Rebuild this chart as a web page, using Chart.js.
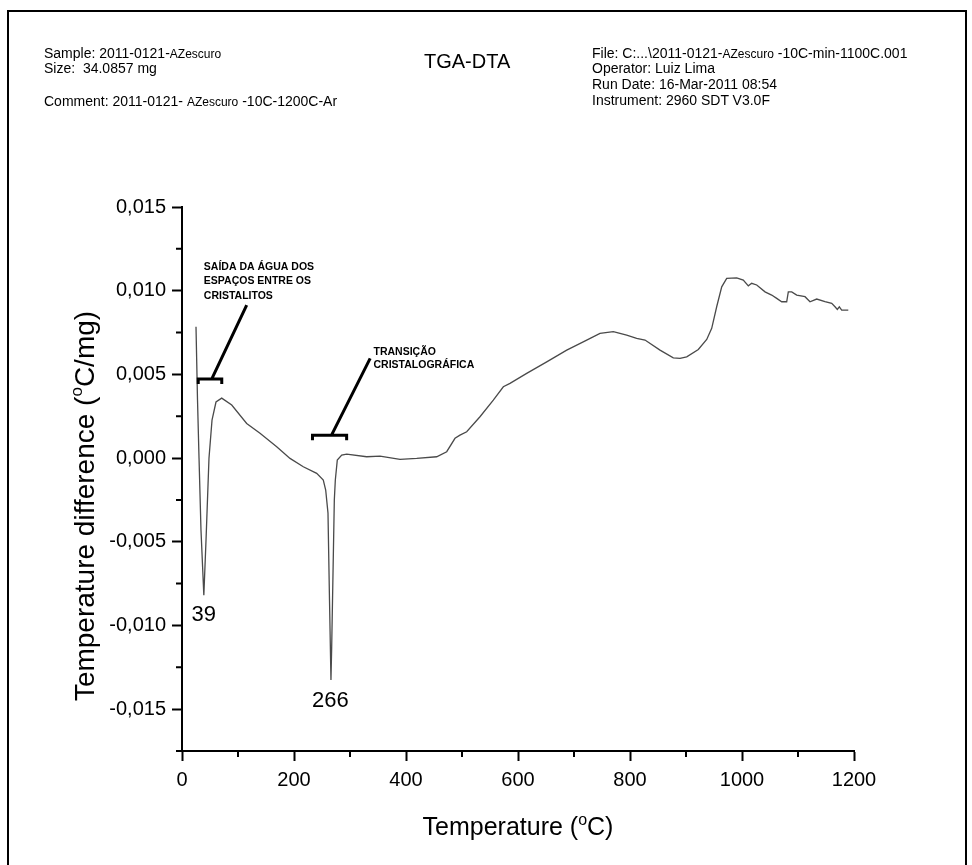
<!DOCTYPE html>
<html>
<head>
<meta charset="utf-8">
<script src="https://cdn.jsdelivr.net/npm/chart.js@4"></script>
<style>
  html, body { margin: 0; padding: 0; background: #fff; }
  body { width: 972px; height: 865px; position: relative; overflow: hidden; font-family: Arial, "Liberation Sans", sans-serif; }
  #frame { position: absolute; left: 7px; top: 10px; width: 960px; height: 900px; border: 2px solid #000; box-sizing: border-box; pointer-events: none; }
  #chartWrap { position: absolute; left: 0; top: 0; width: 972px; height: 865px; }
  .hd { position: absolute; font-size: 14px; line-height: 16px; color: #000; white-space: nowrap; }
  .sm { font-size: 12px; }
  #title { position: absolute; left: 424px; top: 50px; font-size: 20px; line-height: 22px; }
</style>
</head>
<body>
<div id="chartWrap"><canvas id="dtaChart" width="972" height="865"></canvas></div>
<div id="frame"></div>

<div class="hd" style="left:44px; top:45px;">Sample: 2011-0121-<span class="sm">AZescuro</span></div>
<div class="hd" style="left:44px; top:60px;">Size:&nbsp; 34.0857 mg</div>
<div class="hd" style="left:44px; top:93px;">Comment: 2011-0121- <span class="sm">AZescuro</span> -10C-1200C-Ar</div>
<div id="title">TGA-DTA</div>
<div class="hd" style="left:592px; top:45px;">File: C:...\2011-0121-<span class="sm">AZescuro</span> -10C-min-1100C.001</div>
<div class="hd" style="left:592px; top:60px;">Operator: Luiz Lima</div>
<div class="hd" style="left:592px; top:76px;">Run Date: 16-Mar-2011 08:54</div>
<div class="hd" style="left:592px; top:92px;">Instrument: 2960 SDT V3.0F</div>

<script>
// DTA curve
const temperature = [
    25, 27.7, 30.4, 33.9, 39, 42.9, 48.2, 53.6, 60.7, 70.9,
    88.8, 115.5, 139.3, 169.1, 192.9, 216.6, 240.5, 252.3, 256.6, 260.7,
    263.4, 266, 267.3, 272, 273.8, 277.3, 285.2, 294.1, 329.8, 353.6,
    389.3, 419.1, 454.8, 472.7, 487.5, 496.4, 508.4, 532.1, 555.9, 573.8,
    585.7, 615.5, 651.3, 687, 722.7, 746.4, 770.2, 794.1, 811.9, 826.8,
    853.6, 877.3, 889.3, 901.3, 922, 937, 945.9, 954.8, 963.8, 972.7,
    990.5, 1002.3, 1011.3, 1017.3, 1026.3, 1041.1, 1053, 1062, 1070.9, 1079.8,
    1082.7, 1088.8, 1097.7, 1112.5, 1121.4, 1133.4, 1148.2, 1160.2, 1166.1, 1170.2,
    1173.8, 1178, 1189.8
];
const tempDiff = [
    0.00784, 0.00347, 0.0, -0.0043, -0.0082, -0.0049, 0.0, 0.00227, 0.00335, 0.00358,
    0.00317, 0.00207, 0.00148, 0.00068, -0.00002, -0.00052, -0.00091, -0.00131, -0.00191, -0.00329,
    -0.00848, -0.01326, -0.01129, -0.00251, -0.00131, -0.00012, 0.00018, 0.00024, 0.00008, 0.00012,
    -0.00008, -0.00002, 0.00008, 0.00038, 0.00118, 0.00137, 0.00157, 0.00247, 0.00346, 0.00426,
    0.00446, 0.00506, 0.00575, 0.00645, 0.00705, 0.00745, 0.00755, 0.00735, 0.00715, 0.00705,
    0.00645, 0.00599, 0.00596, 0.00605, 0.00649, 0.00709, 0.00775, 0.00904, 0.01023, 0.01074,
    0.01077, 0.01063, 0.01029, 0.01044, 0.01034, 0.00993, 0.00974, 0.00954, 0.00934, 0.00934,
    0.00993, 0.00993, 0.00974, 0.00964, 0.00934, 0.0095, 0.00934, 0.00924, 0.00904, 0.00888,
    0.00904, 0.00884, 0.00884
];

const xTicks = [0, 200, 400, 600, 800, 1000, 1200];
const xMinorTicks = [100, 300, 500, 700, 900, 1100];
const yTicks = [-0.015, -0.010, -0.005, 0.000, 0.005, 0.010, 0.015];
const yMinorTicks = [-0.0175, -0.0125, -0.0075, -0.0025, 0.0025, 0.0075, 0.0125];

const peakLabels = [
    { text: '39', x: 39, y: -0.00938 },
    { text: '266', x: 265, y: -0.01452 },
];

// bracket + leader line + note, in data units
const notes = [
    { from: 29, to: 71, y: 0.00472, lead: [53, 0.00472, 115.5, 0.00914],
      textX: 39, textY: [0.0114, 0.0106, 0.0097],
      lines: ['SAÍDA DA ÁGUA DOS', 'ESPAÇOS ENTRE OS', 'CRISTALITOS'] },
    { from: 233, to: 294, y: 0.00137, lead: [267, 0.00137, 336, 0.00596],
      textX: 342, textY: [0.00635, 0.00556],
      lines: ['TRANSIÇÃO', 'CRISTALOGRÁFICA'] },
];

const fmt = v => Number(v).toFixed(3).replace('.', ',').replace('-0,000', '0,000');

const extras = {
    id: 'extras',
    afterDraw(chart) {
        const c = chart.ctx;
        const xs = chart.scales.x, ys = chart.scales.y;
        const area = chart.chartArea;
        c.save();
        c.strokeStyle = '#000';
        c.fillStyle = '#000';

        // minor ticks
        c.lineWidth = 2;
        c.beginPath();
        xMinorTicks.forEach(v => {
            const px = xs.getPixelForValue(v);
            c.moveTo(px, area.bottom);
            c.lineTo(px, area.bottom + 6);
        });
        yMinorTicks.forEach(v => {
            const py = ys.getPixelForValue(v);
            c.moveTo(area.left, py);
            c.lineTo(area.left - 6, py);
        });
        c.stroke();

        // brackets and notes
        notes.forEach(n => {
            const x1 = xs.getPixelForValue(n.from), x2 = xs.getPixelForValue(n.to);
            const yb = ys.getPixelForValue(n.y);
            c.lineWidth = 3;
            c.beginPath();
            c.moveTo(x1, yb + 5); c.lineTo(x1, yb); c.lineTo(x2, yb); c.lineTo(x2, yb + 5);
            c.moveTo(xs.getPixelForValue(n.lead[0]), ys.getPixelForValue(n.lead[1]));
            c.lineTo(xs.getPixelForValue(n.lead[2]), ys.getPixelForValue(n.lead[3]));
            c.stroke();
            c.font = 'bold 10.5px Arial, "Liberation Sans"';
            c.textAlign = 'left';
            c.textBaseline = 'middle';
            n.lines.forEach((t, i) => {
                c.fillText(t, xs.getPixelForValue(n.textX), ys.getPixelForValue(n.textY[i]));
            });
        });

        // peak labels
        c.font = '22px Arial, "Liberation Sans"';
        c.textAlign = 'center';
        c.textBaseline = 'middle';
        peakLabels.forEach(p => {
            c.fillText(p.text, xs.getPixelForValue(p.x), ys.getPixelForValue(p.y));
        });

        // axis titles with superscript o
        const drawTitle = (parts, size, cx, cy, rot) => {
            c.save();
            c.translate(cx, cy);
            c.rotate(rot);
            c.textBaseline = 'alphabetic';
            c.textAlign = 'left';
            const big = size + 'px Arial, "Liberation Sans"';
            const small = Math.round(size * 0.62) + 'px Arial, "Liberation Sans"';
            let w = 0;
            parts.forEach(p => { c.font = p.sup ? small : big; w += c.measureText(p.t).width; });
            let x = -w / 2;
            const base = size * 0.36;
            parts.forEach(p => {
                c.font = p.sup ? small : big;
                c.fillText(p.t, x, p.sup ? base - size * 0.42 : base);
                x += c.measureText(p.t).width;
            });
            c.restore();
        };
        drawTitle([{ t: 'Temperature (' }, { t: 'o', sup: true }, { t: 'C)' }], 25,
            (xs.left + xs.right) / 2, area.bottom + 75, 0);
        drawTitle([{ t: 'Temperature difference (' }, { t: 'o', sup: true }, { t: 'C/mg)' }], 28,
            84, (area.top + area.bottom) / 2 + 27, -Math.PI / 2);

        c.restore();
    }
};

const ctx = document.getElementById('dtaChart').getContext('2d');

new Chart(ctx, {
    type: 'scatter',
    data: {
        datasets: [{
            label: 'DTA',
            data: temperature.map((t, i) => ({ x: t, y: tempDiff[i] })),
            showLine: true,
            borderColor: '#4a4a4a',
            borderWidth: 1.3,
            pointRadius: 0,
            tension: 0,
        }],
    },
    options: {
        responsive: false,
        animation: false,
        layout: {
            padding: { left: 70, top: 207, right: 118, bottom: 0 },
        },
        plugins: {
            legend: { display: false },
            tooltip: { enabled: false },
        },
        scales: {
            x: {
                type: 'linear',
                min: 0,
                max: 1200,
                afterBuildTicks: s => { s.ticks = xTicks.map(v => ({ value: v })); },
                afterFit: s => { s.height = 114; },
                ticks: {
                    color: '#000',
                    font: { size: 20, family: 'Arial, "Liberation Sans"' },
                    padding: 7,
                    maxRotation: 0,
                    callback: v => String(v),
                },
                grid: {
                    drawOnChartArea: false,
                    drawTicks: true,
                    tickLength: 10,
                    tickWidth: 2,
                    tickColor: '#000',
                },
                border: { color: '#000', width: 2 },
            },
            y: {
                type: 'linear',
                min: -0.0175,
                max: 0.015,
                afterBuildTicks: s => { s.ticks = yTicks.map(v => ({ value: v })); },
                afterFit: s => { s.width = 112; },
                ticks: {
                    color: '#000',
                    font: { size: 20, family: 'Arial, "Liberation Sans"' },
                    padding: 6,
                    callback: v => fmt(v),
                },
                grid: {
                    drawOnChartArea: false,
                    drawTicks: true,
                    tickLength: 10,
                    tickWidth: 2,
                    tickColor: '#000',
                },
                border: { color: '#000', width: 2 },
            },
        },
    },
    plugins: [extras],
});
</script>
</body>
</html>
